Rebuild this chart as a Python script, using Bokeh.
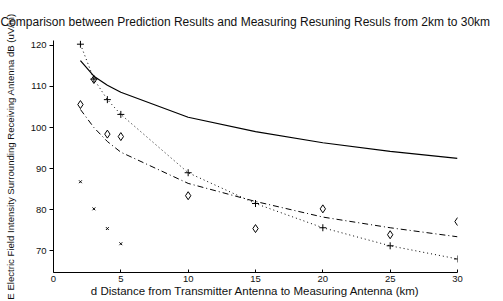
import math
from bokeh.plotting import figure
from bokeh.models import FixedTicker, Range1d
from bokeh.embed import file_html
from bokeh.resources import INLINE

# ---- data ----
dist = [2, 3, 4, 5, 10, 15, 20, 25, 30]
prediction_solid = [116.3, 112.5, 110.3, 108.6, 102.5, 99.0, 96.3, 94.2, 92.5]
plus_series = [120.3, 111.8, 106.8, 103.2, 89.0, 81.5, 75.6, 71.2, 68.0]
dashdot_series = [104.4, 100.0, 96.6, 94.0, 86.4, 82.0, 78.2, 75.6, 73.4]
diamond_series = [105.6, 111.7, 98.4, 97.8, 83.4, 75.4, 80.2, 73.9, 77.1]
x_dist = [2, 3, 4, 5]
x_series = [86.8, 80.2, 75.4, 71.7]

x_ticks = [0, 5, 10, 15, 20, 25, 30]
y_ticks = [70, 80, 90, 100, 110, 120]

title_text = "Comparison between Prediction Results and Measuring Resuning Resuls from 2km to 30km"
x_label_text = "d Distance from Transmitter Antenna to Measuring Antenna (km)"
y_label_text = "E Electric Field Intensity Surrounding Receiving Antenna dB (uV/m)"

FONT = "Liberation Sans"
INK = "#111111"

p = figure(width=503, height=301, output_backend="svg", toolbar_location=None,
           x_range=Range1d(0, 30), y_range=Range1d(64.7, 121.2),
           min_border_left=53, min_border_right=46, min_border_top=40, min_border_bottom=29)

p.outline_line_color = None
p.xgrid.grid_line_color = None
p.ygrid.grid_line_color = None
p.background_fill_color = "white"
p.border_fill_color = "white"

p.title.text = title_text
p.title.text_font = FONT
p.title.text_font_size = "12px"
p.title.text_font_style = "normal"
p.title.text_color = INK
p.title.align = "left"
p.title.offset = -53
p.title.standoff = 24

p.line(dist, prediction_solid, line_color="black", line_width=1.2)
p.line(dist, plus_series, line_color="black", line_width=1, line_dash="1 3")
p.line(dist, dashdot_series, line_color="black", line_width=1, line_dash="6 3 1 3")
p.scatter(dist, plus_series, marker="cross", size=7, line_color="black", line_width=1)
p.scatter(dist, diamond_series, marker="diamond", size=8, fill_color=None,
          line_color="black", line_width=1)
p.scatter(x_dist, x_series, marker="x", size=4, line_color="black", line_width=1)

xa = p.xaxis[0]
xa.ticker = FixedTicker(ticks=x_ticks)
xa.axis_label = x_label_text
xa.axis_label_text_font = FONT
xa.axis_label_text_font_size = "11.5px"
xa.axis_label_text_font_style = "normal"
xa.axis_label_text_color = INK
xa.axis_label_standoff = 0
xa.major_label_text_font = FONT
xa.major_label_text_font_size = "9.5px"
xa.major_label_text_color = INK
xa.major_label_standoff = 3
xa.major_tick_in = 3
xa.major_tick_out = 0
xa.minor_tick_line_color = None
xa.axis_line_color = "black"

ya = p.yaxis[0]
ya.ticker = FixedTicker(ticks=y_ticks)
ya.axis_label = y_label_text
ya.axis_label_text_font = FONT
ya.axis_label_text_font_size = "9.6px"
ya.axis_label_text_font_style = "normal"
ya.axis_label_text_color = INK
ya.axis_label_standoff = 12
ya.major_label_text_font = FONT
ya.major_label_text_font_size = "9.5px"
ya.major_label_text_color = INK
ya.major_label_standoff = 3
ya.major_tick_in = 0
ya.major_tick_out = 4
ya.minor_tick_line_color = None
ya.axis_line_color = "black"

open("out.html", "w").write(file_html(p, INLINE))
